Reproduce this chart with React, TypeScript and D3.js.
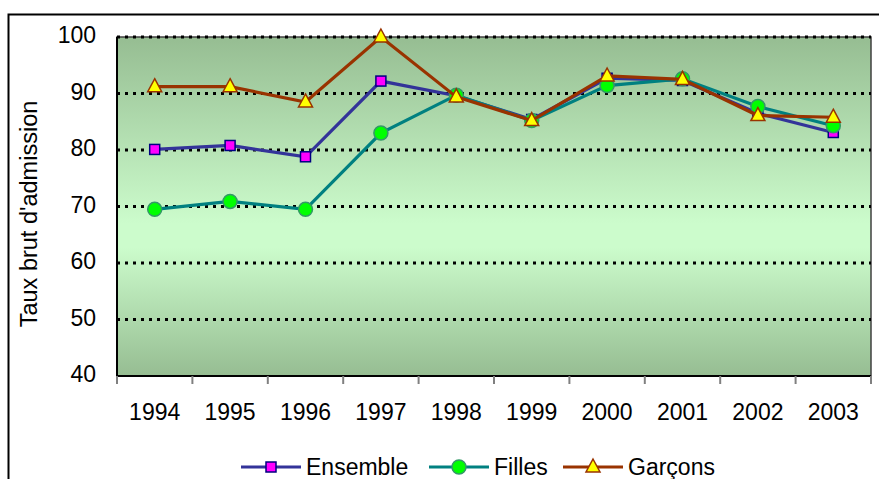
import React, { useEffect, useRef } from "react";
import * as d3 from "d3";

// values
const years = ["1994", "1995", "1996", "1997", "1998", "1999", "2000", "2001", "2002", "2003"];
const ensemble = [80.1, 80.8, 78.8, 92.2, 89.6, 85.4, 92.7, 92.3, 86.5, 83.1];
const filles = [69.5, 70.9, 69.5, 83.0, 89.7, 85.2, 91.4, 92.6, 87.7, 84.3];
const garcons = [91.2, 91.2, 88.5, 100, 89.4, 85.2, 93.1, 92.5, 86.1, 85.8];
const yTicks = [40, 50, 60, 70, 80, 90, 100];

const FONT = "Arial, 'Liberation Sans', sans-serif";

const App = () => {
  const ref = useRef<SVGSVGElement>(null);

  useEffect(() => {
    const svg = d3.select(ref.current);
    svg.selectAll("*").remove();

    const plot = { left: 117, top: 37, right: 871, bottom: 376 };

    const x = d3.scaleBand().domain(years).range([plot.left, plot.right]).padding(0);
    const y = d3.scaleLinear().domain([40, 100]).range([plot.bottom, plot.top]);
    const cx = (d: string) => (x(d) as number) + x.bandwidth() / 2;

    // background gradient
    const defs = svg.append("defs");
    const grad = defs
      .append("linearGradient")
      .attr("id", "bg")
      .attr("x1", 0)
      .attr("y1", 0)
      .attr("x2", 0)
      .attr("y2", 1);
    grad.append("stop").attr("offset", "0%").attr("stop-color", "#96bd92");
    grad.append("stop").attr("offset", "55%").attr("stop-color", "#ccfccc");
    grad.append("stop").attr("offset", "62%").attr("stop-color", "#ccfccc");
    grad.append("stop").attr("offset", "100%").attr("stop-color", "#96bd92");

    // outer frame
    svg
      .append("rect")
      .attr("x", 8.5)
      .attr("y", 14.5)
      .attr("width", 900)
      .attr("height", 500)
      .attr("fill", "white")
      .attr("stroke", "black")
      .attr("stroke-width", 2);

    svg
      .append("rect")
      .attr("x", plot.left)
      .attr("y", plot.top)
      .attr("width", plot.right - plot.left)
      .attr("height", plot.bottom - plot.top)
      .attr("fill", "url(#bg)")
      .attr("stroke", "#404040")
      .attr("stroke-width", 1.5);

    // dotted gridlines
    svg
      .append("g")
      .selectAll("line")
      .data(yTicks.filter((t) => t > 40))
      .enter()
      .append("line")
      .attr("x1", plot.left)
      .attr("x2", plot.right)
      .attr("y1", (d) => y(d))
      .attr("y2", (d) => y(d))
      .attr("stroke", "black")
      .attr("stroke-width", 3)
      .attr("stroke-dasharray", "3,5");

    // axes
    svg
      .append("line")
      .attr("x1", plot.left)
      .attr("x2", plot.left)
      .attr("y1", plot.top)
      .attr("y2", plot.bottom)
      .attr("stroke", "black")
      .attr("stroke-width", 2);
    svg
      .append("line")
      .attr("x1", plot.left)
      .attr("x2", plot.right)
      .attr("y1", plot.bottom)
      .attr("y2", plot.bottom)
      .attr("stroke", "black")
      .attr("stroke-width", 2);

    const tickXs = years.map((d) => x(d) as number).concat([x.range()[1]]);
    svg
      .append("g")
      .selectAll("line")
      .data(tickXs)
      .enter()
      .append("line")
      .attr("x1", (d) => d)
      .attr("x2", (d) => d)
      .attr("y1", plot.bottom)
      .attr("y2", plot.bottom + 8)
      .attr("stroke", "#808080")
      .attr("stroke-width", 2);

    svg
      .append("g")
      .selectAll("text")
      .data(years)
      .enter()
      .append("text")
      .attr("x", (d) => cx(d))
      .attr("y", 412)
      .attr("dy", "0.35em")
      .attr("text-anchor", "middle")
      .attr("font-family", FONT)
      .attr("font-size", "23px")
      .text((d) => d);

    svg
      .append("g")
      .selectAll("text")
      .data(yTicks)
      .enter()
      .append("text")
      .attr("x", 96)
      .attr("y", (d) => y(d) - 2)
      .attr("dy", "0.35em")
      .attr("text-anchor", "end")
      .attr("font-family", FONT)
      .attr("font-size", "23px")
      .text((d) => d);

    svg
      .append("text")
      .attr("transform", "translate(37, 214) rotate(-90)")
      .attr("text-anchor", "middle")
      .attr("font-family", FONT)
      .attr("font-size", "23.5px")
      .text("Taux brut d'admission");

    const series = [
      { name: "Ensemble", values: ensemble, line: "#333399", fill: "#ff00ff", stroke: "#000080", shape: "square" },
      { name: "Filles", values: filles, line: "#008080", fill: "#00ff00", stroke: "#339966", shape: "circle" },
      { name: "Garçons", values: garcons, line: "#993300", fill: "#ffff00", stroke: "#993300", shape: "triangle" },
    ];

    const drawMarker = (g: any, shape: string, px: number, py: number, fill: string, stroke: string) => {
      if (shape === "square") {
        g.append("rect")
          .attr("x", px - 5)
          .attr("y", py - 5)
          .attr("width", 10)
          .attr("height", 10)
          .attr("fill", fill)
          .attr("stroke", stroke)
          .attr("stroke-width", 1.5);
      } else if (shape === "circle") {
        g.append("circle")
          .attr("cx", px)
          .attr("cy", py)
          .attr("r", 7)
          .attr("fill", fill)
          .attr("stroke", stroke)
          .attr("stroke-width", 1.5);
      } else {
        g.append("path")
          .attr("d", `M${px},${py - 8}L${px + 7},${py + 5}L${px - 7},${py + 5}Z`)
          .attr("fill", fill)
          .attr("stroke", stroke)
          .attr("stroke-width", 1.5);
      }
    };

    const line = d3
      .line<number>()
      .x((_, i) => cx(years[i]))
      .y((d) => y(d));

    series.forEach((s) => {
      const g = svg.append("g");
      g.append("path")
        .attr("d", line(s.values))
        .attr("fill", "none")
        .attr("stroke", s.line)
        .attr("stroke-width", 3.2);
      s.values.forEach((v, i) => drawMarker(g, s.shape, cx(years[i]), y(v), s.fill, s.stroke));
    });

    // legend
    const legendItems = [
      { x1: 241, x2: 301, tx: 306 },
      { x1: 429, x2: 489, tx: 494 },
      { x1: 563, x2: 623, tx: 628 },
    ];
    const ly = 467;
    series.forEach((s, i) => {
      const p = legendItems[i];
      const g = svg.append("g");
      g.append("line")
        .attr("x1", p.x1)
        .attr("x2", p.x2)
        .attr("y1", ly)
        .attr("y2", ly)
        .attr("stroke", s.line)
        .attr("stroke-width", 3);
      drawMarker(g, s.shape, (p.x1 + p.x2) / 2, ly, s.fill, s.stroke);
      g.append("text")
        .attr("x", p.tx)
        .attr("y", ly)
        .attr("dy", "0.35em")
        .attr("font-family", FONT)
        .attr("font-size", "23px")
        .text(s.name);
    });
  }, []);

  return (
    <svg
      ref={ref}
      width={879}
      height={479}
      style={{ position: "absolute", left: 0, top: 0, display: "block" }}
    />
  );
};

export default App;
